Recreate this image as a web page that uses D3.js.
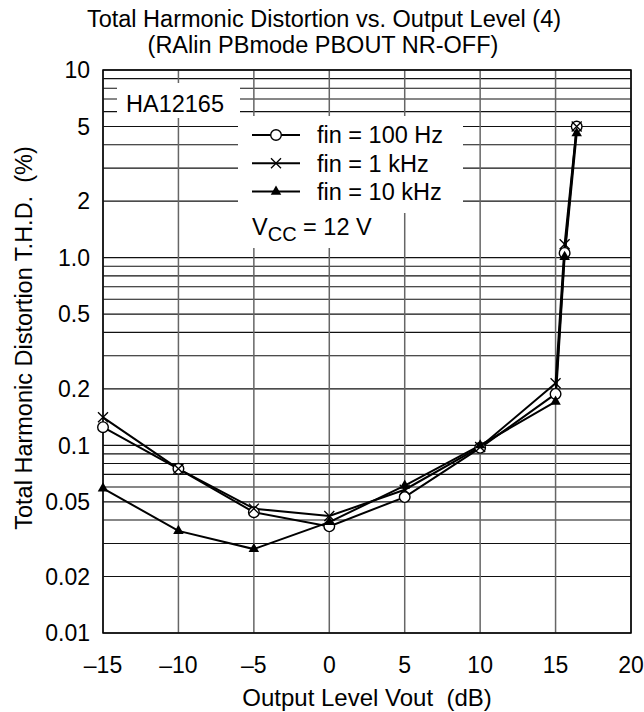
<!DOCTYPE html>
<html>
<head>
<meta charset="utf-8">
<script src="https://cdn.jsdelivr.net/npm/d3@7"></script>
<style>
  body { margin: 0; background: #fff; }
  svg { font-family: "Liberation Sans", Arial, sans-serif; }
</style>
</head>
<body>
<svg width="644" height="712"></svg>
<script>
// Output level (dB) where the points were measured
const levels = [-15, -10, -5, 0, 5, 10, 15, 15.6, 16.4];
// THD (%) per input frequency
const thd100Hz = [0.125, 0.075, 0.044, 0.037, 0.053, 0.097, 0.188, 1.06, 5.0];
const thd1kHz = [0.141, 0.075, 0.046, 0.042, 0.058, 0.098, 0.214, 1.18, 5.0];
const thd10kHz = [0.059, 0.035, 0.028, 0.039, 0.061, 0.100, 0.171, 1.01, 4.6];

const xTicks = [-15, -10, -5, 0, 5, 10, 15, 20];
const yTicks = [0.01, 0.02, 0.05, 0.1, 0.2, 0.5, 1, 2, 5, 10];
const yTickLabels = ['0.01', '0.02', '0.05', '0.1', '0.2', '0.5', '1.0', '2', '5', '10'];

const svg = d3.select('svg');
const plotL = 103, plotR = 631, plotT = 70, plotB = 633;

const x = d3.scaleLinear().domain([-15, 20]).range([plotL, plotR]);
const y = d3.scaleLog().domain([0.01, 10]).range([plotB, plotT]);

// grid
const grid = svg.append('g');
grid.selectAll('line.h')
    .data(y.ticks())
    .enter().append('line')
    .attr('x1', plotL).attr('x2', plotR)
    .attr('y1', d => y(d)).attr('y2', d => y(d))
    .attr('stroke', '#111').attr('stroke-width', 1.1);
grid.selectAll('line.v')
    .data(xTicks)
    .enter().append('line')
    .attr('x1', d => x(d)).attr('x2', d => x(d))
    .attr('y1', plotT).attr('y2', plotB)
    .attr('stroke', '#666').attr('stroke-width', 1.5);

// white patches behind labels
svg.append('rect').attr('x', 117).attr('y', 83).attr('width', 123).attr('height', 35).attr('fill', '#fff');
svg.append('rect').attr('x', 238).attr('y', 116).attr('width', 225).attr('height', 97).attr('fill', '#fff');
svg.append('rect').attr('x', 238).attr('y', 212).attr('width', 150).attr('height', 36).attr('fill', '#fff');

// frame
svg.append('rect')
    .attr('x', plotL).attr('y', plotT)
    .attr('width', plotR - plotL).attr('height', plotB - plotT)
    .attr('fill', 'none').attr('stroke', '#000').attr('stroke-width', 1.5);

// axis labels
svg.selectAll('text.xt')
    .data(xTicks)
    .enter().append('text')
    .attr('x', d => x(d)).attr('y', 673)
    .attr('text-anchor', 'middle')
    .attr('font-size', 23)
    .text(d => d < 0 ? '\u2013' + Math.abs(d) : d);

svg.selectAll('text.yt')
    .data(yTicks)
    .enter().append('text')
    .attr('x', 90).attr('y', d => y(d) + 8.3)
    .attr('text-anchor', 'end')
    .attr('font-size', 23)
    .text((d, i) => yTickLabels[i]);

svg.append('text')
    .attr('x', 367).attr('y', 706)
    .attr('text-anchor', 'middle').attr('font-size', 24)
    .style('white-space', 'pre')
    .text('Output Level Vout  (dB)');

svg.append('text')
    .attr('transform', 'translate(32,338) rotate(-90)')
    .attr('text-anchor', 'middle').attr('font-size', 23.5)
    .style('white-space', 'pre')
    .text('Total Harmonic Distortion T.H.D.  (%)');

svg.append('text')
    .attr('x', 324).attr('y', 27)
    .attr('text-anchor', 'middle').attr('font-size', 23.5)
    .text('Total Harmonic Distortion vs. Output Level (4)');
svg.append('text')
    .attr('x', 323).attr('y', 53)
    .attr('text-anchor', 'middle').attr('font-size', 23.5)
    .text('(RAlin PBmode PBOUT NR-OFF)');

svg.append('text')
    .attr('x', 126).attr('y', 112)
    .attr('font-size', 23.5)
    .text('HA12165');

// series
const series = [
    { name: 'fin = 100 Hz', values: thd100Hz, marker: 'circle' },
    { name: 'fin = 1 kHz', values: thd1kHz, marker: 'cross' },
    { name: 'fin = 10 kHz', values: thd10kHz, marker: 'triangle' }
];

const line = d3.line()
    .x(d => x(d[0]))
    .y(d => y(d[1]));

function drawMarker(g, type, px, py) {
    if (type === 'circle') {
        g.append('circle').attr('cx', px).attr('cy', py).attr('r', 5.3)
            .attr('fill', '#fff').attr('stroke', '#000').attr('stroke-width', 1.4);
    } else if (type === 'cross') {
        const s = 5;
        g.append('path')
            .attr('d', `M${px - s},${py - s}L${px + s},${py + s}M${px - s},${py + s}L${px + s},${py - s}`)
            .attr('stroke', '#000').attr('stroke-width', 1.3).attr('fill', 'none');
    } else {
        g.append('path')
            .attr('d', d3.symbol().type(d3.symbolTriangle).size(48)())
            .attr('transform', `translate(${px},${py})`)
            .attr('fill', '#000');
    }
}

series.forEach(s => {
    const pts = levels.map((l, i) => [l, s.values[i]]);
    svg.append('path')
        .attr('d', line(pts))
        .attr('fill', 'none').attr('stroke', '#000').attr('stroke-width', 2);
});
// markers drawn after all lines
series.forEach(s => {
    const g = svg.append('g');
    levels.forEach((l, i) => drawMarker(g, s.marker, x(l), y(s.values[i])));
});

// legend
const legend = svg.append('g');
series.forEach((s, i) => {
    const ly = 135 + i * 28.3;
    legend.append('line')
        .attr('x1', 252).attr('x2', 300).attr('y1', ly).attr('y2', ly)
        .attr('stroke', '#000').attr('stroke-width', 2);
    drawMarker(legend, s.marker, 276, ly);
    legend.append('text')
        .attr('x', 317).attr('y', ly + 8.3)
        .attr('font-size', 23.5)
        .text(s.name);
});
const vcc = legend.append('text').attr('x', 252).attr('y', 235).attr('font-size', 23.5);
vcc.append('tspan').text('V');
vcc.append('tspan').attr('dy', 6).attr('font-size', 20).text('CC');
vcc.append('tspan').attr('dy', -6).text(' = 12 V');
</script>
</body>
</html>
